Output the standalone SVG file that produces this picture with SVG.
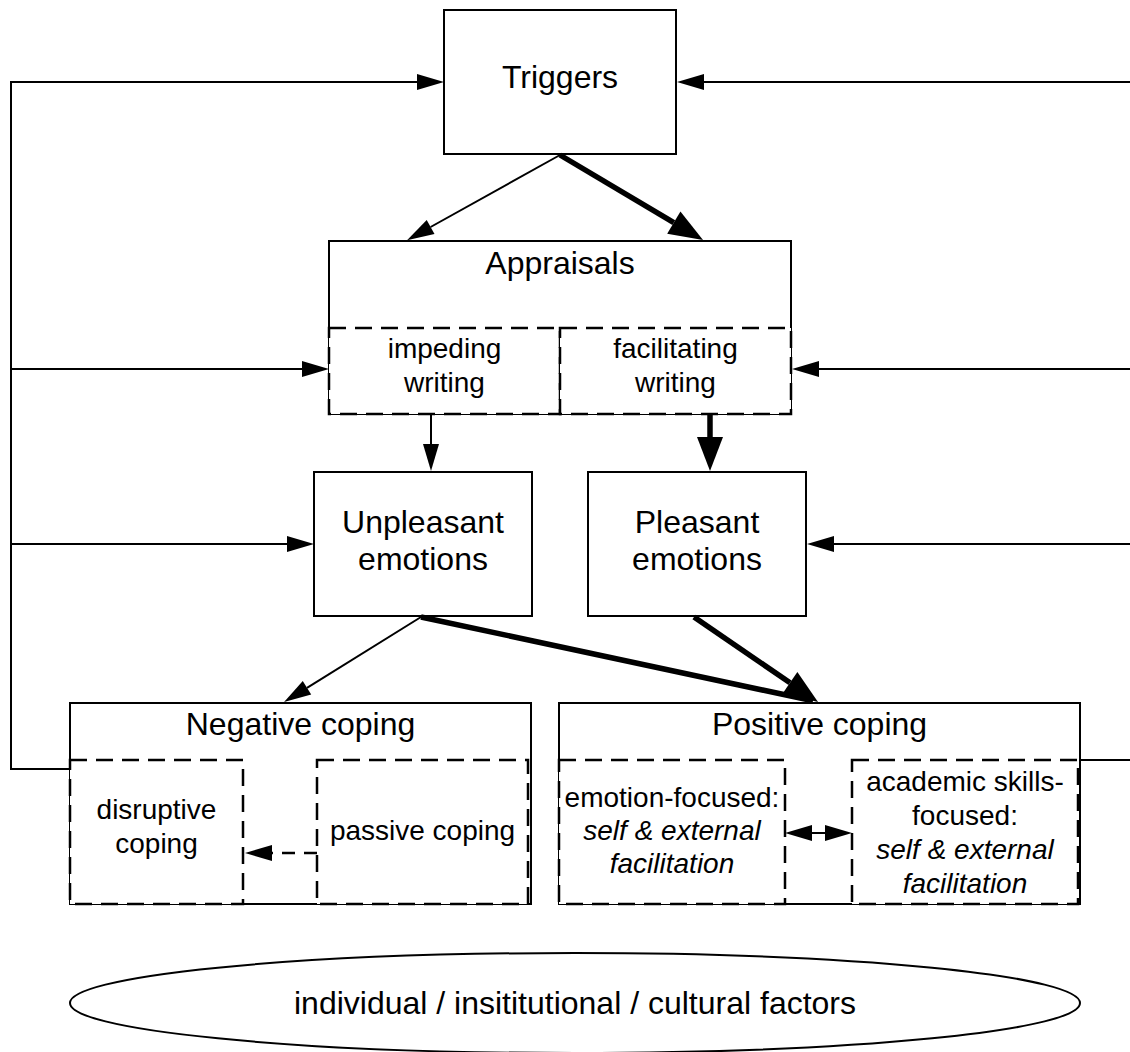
<svg xmlns="http://www.w3.org/2000/svg" width="1130" height="1052" viewBox="0 0 1130 1052">
  <style>
    .box { fill: #ffffff; stroke: #000000; stroke-width: 2; }
    .sub { fill: #ffffff; stroke: #000000; stroke-width: 2.5; stroke-dasharray: 17 9; }
    .title { font-family: "Liberation Sans", Arial, sans-serif; font-size: 32px; fill: #000000; text-anchor: middle; }
    .label { font-family: "Liberation Sans", Arial, sans-serif; font-size: 28px; fill: #000000; text-anchor: middle; }
    .it { font-style: italic; }
    .wire { fill: none; stroke: #000000; stroke-width: 2; }
    .strong { fill: none; stroke: #000000; stroke-width: 5.5; }
    .dashed { fill: none; stroke: #000000; stroke-width: 2.5; stroke-dasharray: 13 9; }
  </style>
  <defs>
    <marker id="head" markerUnits="userSpaceOnUse" markerWidth="27" markerHeight="16" refX="0" refY="8" orient="auto-start-reverse" overflow="visible">
      <path d="M0,0 L27,8 L0,16 Z" fill="#000000"/>
    </marker>
    <marker id="headBig" markerUnits="userSpaceOnUse" markerWidth="34" markerHeight="26" refX="0" refY="13" orient="auto" overflow="visible">
      <path d="M0,0 L34,13 L0,26 Z" fill="#000000"/>
    </marker>
  </defs>

  <rect x="0" y="0" width="1130" height="1052" fill="#ffffff"/>

  <!-- nodes -->
  <g id="triggers">
    <rect class="box" x="444" y="10" width="232" height="144"/>
    <text class="title" x="560" y="88">Triggers</text>
  </g>

  <g id="appraisals">
    <rect class="box" x="329" y="241" width="462" height="173"/>
    <text class="title" x="560" y="274">Appraisals</text>
    <g id="impeding">
      <rect class="sub" x="329" y="328" width="231" height="86"/>
      <text class="label" x="444.5" y="358">impeding</text>
      <text class="label" x="444.5" y="392">writing</text>
    </g>
    <g id="facilitating">
      <rect class="sub" x="560" y="328" width="231" height="86"/>
      <text class="label" x="675.5" y="358">facilitating</text>
      <text class="label" x="675.5" y="392">writing</text>
    </g>
  </g>

  <g id="unpleasant">
    <rect class="box" x="314" y="472" width="218" height="144"/>
    <text class="title" x="423" y="533">Unpleasant</text>
    <text class="title" x="423" y="570">emotions</text>
  </g>

  <g id="pleasant">
    <rect class="box" x="588" y="472" width="218" height="144"/>
    <text class="title" x="697" y="533">Pleasant</text>
    <text class="title" x="697" y="570">emotions</text>
  </g>

  <g id="negative-coping">
    <rect class="box" x="70" y="703" width="461" height="201"/>
    <text class="title" x="300.5" y="735">Negative coping</text>
    <g id="disruptive">
      <rect class="sub" x="70" y="760" width="173" height="144"/>
      <text class="label" x="156.5" y="819">disruptive</text>
      <text class="label" x="156.5" y="853">coping</text>
    </g>
    <g id="passive">
      <rect class="sub" x="317" y="760" width="211" height="144"/>
      <text class="label" x="422.5" y="840">passive coping</text>
    </g>
  </g>

  <g id="positive-coping">
    <rect class="box" x="559" y="703" width="521" height="201"/>
    <text class="title" x="819.5" y="735">Positive coping</text>
    <g id="emotion-focused">
      <rect class="sub" x="559" y="760" width="226" height="144"/>
      <text class="label" x="672" y="807">emotion-focused:</text>
      <text class="label it" x="672" y="840">self &amp; external</text>
      <text class="label it" x="672" y="873">facilitation</text>
    </g>
    <g id="skills-focused">
      <rect class="sub" x="852" y="760" width="226" height="144"/>
      <text class="label" x="965" y="791">academic skills-</text>
      <text class="label" x="965" y="825">focused:</text>
      <text class="label it" x="965" y="859">self &amp; external</text>
      <text class="label it" x="965" y="893">facilitation</text>
    </g>
  </g>

  <g id="factors">
    <ellipse class="box" cx="575" cy="1003" rx="505" ry="50"/>
    <text class="title" x="575" y="1014">individual / insititutional / cultural factors</text>
  </g>

  <!-- connectors -->
  <g id="connectors">
    <!-- feedback loop on the left -->
    <path class="wire" d="M70,769 H11 V82 H417" marker-end="url(#head)"/>
    <path class="wire" d="M11,369 H302" marker-end="url(#head)"/>
    <path class="wire" d="M11,544 H287" marker-end="url(#head)"/>

    <!-- feedback loop on the right -->
    <path class="wire" d="M1080,760 H1130"/>
    <path class="wire" d="M1130,82 H704" marker-end="url(#head)"/>
    <path class="wire" d="M1130,369 H819" marker-end="url(#head)"/>
    <path class="wire" d="M1130,544 H834" marker-end="url(#head)"/>

    <!-- triggers to appraisals -->
    <path class="wire" d="M560,155 L430.6,227" marker-end="url(#head)"/>
    <path class="strong" d="M560,155 L673.8,222.6" marker-end="url(#headBig)"/>

    <!-- appraisals to emotions -->
    <path class="wire" d="M431,415 V444" marker-end="url(#head)"/>
    <path class="strong" d="M710,415 V437" marker-end="url(#headBig)"/>

    <!-- emotions to coping -->
    <path class="wire" d="M421,617 L307,687.8" marker-end="url(#head)"/>
    <path class="strong" d="M421,617 L813,700.8"/>
    <path class="strong" d="M694,617 L790,682.8" marker-end="url(#headBig)"/>

    <!-- within coping -->
    <path class="dashed" d="M317,853 H272" marker-end="url(#head)"/>
    <path class="wire" d="M812,833 H825" marker-start="url(#head)" marker-end="url(#head)"/>
  </g>
</svg>
